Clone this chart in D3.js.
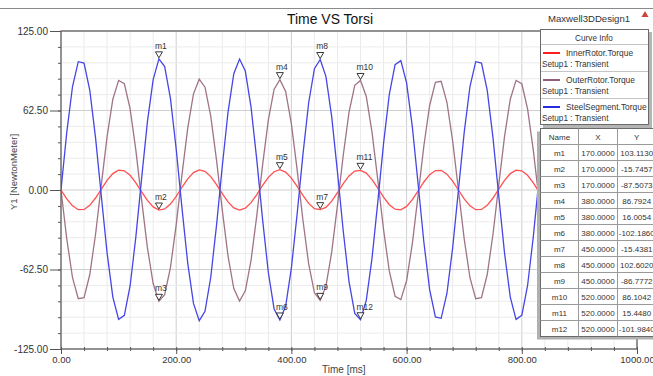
<!DOCTYPE html>
<html>
<head>
<meta charset="utf-8">
<script src="https://d3js.org/d3.v7.min.js"></script>
<style>
  html, body { margin: 0; padding: 0; background: #fff; }
  svg { display: block; font-family: Arial, "Liberation Sans", sans-serif; }
</style>
</head>
<body>
<svg id="chart" width="653" height="376"></svg>
<script>
// sample times (ms)
const timeMs = [
  0, 10, 20, 30, 40, 50, 60, 70, 80, 90,
  100, 110, 120, 130, 140, 150, 160, 170, 180, 190,
  200, 210, 220, 230, 240, 250, 260, 270, 280, 290,
  300, 310, 320, 330, 340, 350, 360, 370, 380, 390,
  400, 410, 420, 430, 440, 450, 460, 470, 480, 490,
  500, 510, 520, 530, 540, 550, 560, 570, 580, 590,
  600, 610, 620, 630, 640, 650, 660, 670, 680, 690,
  700, 710, 720, 730, 740, 750, 760, 770, 780, 790,
  800, 810, 820, 830, 840, 850, 860, 870, 880, 890,
  900, 910, 920, 930, 940, 950, 960, 970, 980, 990,
  1000
];

const innerRotor = [
  0, -6.95, -12.48, -15.47, -15.31, -12.02, -6.29, 0.72, 7.59, 12.91,
  15.60, 15.11, 11.54, 5.63, -1.44, -8.21, -13.31, -15.7457, -14.89, -11.04,
  -4.95, 2.15, 8.81, 13.68, 15.76, 14.63, 10.52, 4.26, -2.86, -9.40,
  -14.03, -15.80, -14.34, -9.97, -3.57, 3.57, 9.97, 14.34, 16.0054, 14.03,
  9.40, 2.86, -4.26, -10.52, -14.63, -15.4381, -13.68, -8.81, -2.15, 4.95,
  11.04, 14.89, 15.4480, 13.31, 8.21, 1.44, -5.63, -11.54, -15.11, -15.60,
  -12.91, -7.59, -0.72, 6.29, 12.02, 15.31, 15.47, 12.48, 6.95, 0,
  -6.95, -12.48, -15.47, -15.31, -12.02, -6.29, 0.72, 7.59, 12.91, 15.60,
  15.11, 11.54, 5.63, -1.44, -8.21, -13.31, -15.62, -14.89, -11.04, -4.95,
  2.15, 8.81, 13.68, 15.76, 14.63, 10.52, 4.26, -2.86, -9.40, -14.03,
  -15.80
];

const outerRotor = [
  0, -38.39, -68.97, -85.48, -84.58, -66.44, -34.78, 3.97, 41.92, 71.33,
  86.19, 83.50, 63.78, 31.10, -7.94, -45.36, -73.54, -87.5073, -82.26, -61.02,
  -27.35, 11.89, 48.70, 75.60, 87.10, 80.85, 58.13, 23.55, -15.81, -51.94,
  -77.51, -87.27, -79.26, -55.10, -19.70, 19.70, 55.10, 79.26, 86.7924, 77.51,
  51.94, 15.81, -23.55, -58.13, -80.85, -86.7772, -75.60, -48.70, -11.89, 27.35,
  61.02, 82.26, 86.1042, 73.54, 45.36, 7.94, -31.10, -63.78, -83.50, -86.19,
  -71.33, -41.92, -3.97, 34.78, 66.44, 84.58, 85.48, 68.97, 38.39, 0,
  -38.39, -68.97, -85.48, -84.58, -66.44, -34.78, 3.97, 41.92, 71.33, 86.19,
  83.50, 63.78, 31.10, -7.94, -45.36, -73.54, -86.70, -82.26, -61.02, -27.35,
  11.89, 48.70, 75.60, 87.10, 80.85, 58.13, 23.55, -15.81, -51.94, -77.51,
  -87.27
];

const steelSegment = [
  0, 45.29, 81.37, 100.85, 99.79, 78.38, 41.04, -4.69, -49.46, -84.16,
  -101.69, -98.52, -75.25, -36.69, 9.37, 53.52, 86.77, 103.1130, 97.06, 72.00,
  32.27, -14.03, -57.45, -89.20, -102.76, -95.39, -68.59, -27.79, 18.65, 61.29,
  91.45, 102.97, 93.51, 65.00, 23.25, -23.25, -65.00, -93.51, -102.1860, -91.45,
  -61.29, -18.65, 27.79, 68.59, 95.39, 102.6020, 89.20, 57.45, 14.03, -32.27,
  -72.00, -97.06, -101.9840, -86.77, -53.52, -9.37, 36.69, 75.25, 98.52, 101.69,
  84.16, 49.46, 4.69, -41.04, -78.38, -99.79, -100.85, -81.37, -45.29, 0,
  45.29, 81.37, 100.85, 99.79, 78.38, 41.04, -4.69, -49.46, -84.16, -101.69,
  -98.52, -75.25, -36.69, 9.37, 53.52, 86.77, 102.30, 97.06, 72.00, 32.27,
  -14.03, -57.45, -89.20, -102.76, -95.39, -68.59, -27.79, 18.65, 61.29, 91.45,
  102.97
];

const seriesNames = ["InnerRotor.Torque", "OuterRotor.Torque", "SteelSegment.Torque"];
const seriesColors = ["#ff4f4f", "#a07488", "#4646e6"];
const legendColors = ["#ff1e1e", "#8e5f76", "#2a2ae0"];

// markers
const markerNames = ["m1", "m2", "m3", "m4", "m5", "m6", "m7", "m8", "m9", "m10", "m11", "m12"];
const markerX = [170, 170, 170, 380, 380, 380, 450, 450, 450, 520, 520, 520];
const markerY = [103.1130, -15.7457, -87.5073, 86.7924, 16.0054, -102.1860,
                 -15.4381, 102.6020, -86.7772, 86.1042, 15.4480, -101.9840];

const xTicks = [0, 200, 400, 600, 800, 1000];
const yTicks = [125, 62.5, 0, -62.5, -125];

const svg = d3.select("#chart");
const plotL = 61, plotR = 637, plotT = 31, plotB = 349;

let x = d3.scaleLinear().domain([0, 1000]).range([plotL, plotR]);
let y = d3.scaleLinear().domain([-125, 125]).range([plotB, plotT]);

// top rule
svg.append("line").attr("x1", 0).attr("x2", 653).attr("y1", 8.5).attr("y2", 8.5)
  .attr("stroke", "#8a8a8a");

// title + design name
svg.append("text").attr("x", 330).attr("y", 24).attr("text-anchor", "middle")
  .attr("font-size", 15).attr("textLength", 86).attr("lengthAdjust", "spacingAndGlyphs")
  .attr("fill", "#111").text("Time VS Torsi");
svg.append("text").attr("x", 548).attr("y", 22).attr("font-size", 9.6)
  .attr("fill", "#333").text("Maxwell3DDesign1");
svg.append("path").attr("d", "M645,11 L641.5,17 L648.5,17 Z").attr("fill", "#c8443c");

// grid
const minorX = d3.range(0, 1001, 40);
const minorY = d3.range(-125, 126, 12.5);
let grid = svg.append("g");
grid.selectAll(".gx").data(minorX).join("line")
  .attr("x1", d => x(d)).attr("x2", d => x(d)).attr("y1", plotT).attr("y2", plotB)
  .attr("stroke", d => d % 200 === 0 ? "#cfcfcf" : "#ebebeb").attr("stroke-width", 1);
grid.selectAll(".gy").data(minorY).join("line")
  .attr("x1", plotL).attr("x2", plotR).attr("y1", d => y(d)).attr("y2", d => y(d))
  .attr("stroke", d => d % 62.5 === 0 ? "#cfcfcf" : "#ebebeb").attr("stroke-width", 1);

// curves
const allSeries = [innerRotor, outerRotor, steelSegment];
svg.append("clipPath").attr("id", "plotclip").append("rect")
  .attr("x", plotL).attr("y", plotT).attr("width", plotR - plotL).attr("height", plotB - plotT);
let line = d3.line().x((d, i) => x(timeMs[i])).y(d => y(d));
let curves = svg.append("g").attr("clip-path", "url(#plotclip)");
allSeries.forEach((s, i) => {
  curves.append("path").attr("d", line(s)).attr("fill", "none")
    .attr("stroke", seriesColors[i]).attr("stroke-width", 1.3);
});

// axes
const fmt = d => d.toFixed(2);
let yAxis = svg.append("g").attr("transform", `translate(${plotL},0)`)
  .call(d3.axisLeft(y).tickValues(yTicks).tickFormat(fmt).tickSize(11).tickPadding(2));
svg.append("g").attr("transform", `translate(${plotL},0)`)
  .call(d3.axisLeft(y).tickValues(minorY).tickFormat("").tickSize(3));
let xAxis = svg.append("g").attr("transform", `translate(0,${plotB})`)
  .call(d3.axisBottom(x).tickValues(xTicks).tickFormat(fmt).tickSize(5).tickPadding(2));
svg.append("g").attr("transform", `translate(0,${plotB - 2})`)
  .call(d3.axisBottom(x).tickValues(minorX).tickFormat("").tickSize(4));
svg.selectAll(".domain").remove();
svg.selectAll(".tick line").attr("stroke", "#555");
yAxis.selectAll("text").attr("font-size", 10).attr("fill", "#333").attr("font-family", "Arial, 'Liberation Sans', sans-serif");
xAxis.selectAll("text").attr("font-size", 9.5).attr("fill", "#333").attr("font-family", "Arial, 'Liberation Sans', sans-serif");

// frame
svg.append("rect").attr("x", plotL).attr("y", plotT).attr("width", plotR - plotL).attr("height", plotB - plotT)
  .attr("fill", "none").attr("stroke", "#5a5a5a").attr("stroke-width", 1.2);

// axis titles
svg.append("text").attr("x", 322).attr("y", 373).attr("font-size", 10).attr("fill", "#444")
  .text("Time [ms]");
svg.append("text").attr("transform", "translate(17,172) rotate(-90)").attr("text-anchor", "middle")
  .attr("font-size", 9.5).attr("fill", "#444").text("Y1 [NewtonMeter]");

// marker symbols
let mk = svg.append("g");
markerNames.forEach((name, i) => {
  const px = x(markerX[i]), py = y(markerY[i]);
  mk.append("path")
    .attr("d", `M${px},${py - 1} L${px - 3.5},${py - 7} L${px + 3.5},${py - 7} Z`)
    .attr("fill", "#fff").attr("stroke", "#222").attr("stroke-width", 0.9);
  mk.append("text").attr("x", px - 4).attr("y", py - 10).attr("font-size", 8.5)
    .attr("fill", "#333").text(name);
});

// legend box (Curve Info)
let lg = svg.append("g");
lg.append("rect").attr("x", 543).attr("y", 32).attr("width", 109).attr("height", 96).attr("fill", "#b5b5b5");
lg.append("rect").attr("x", 540.5).attr("y", 29.5).attr("width", 108).attr("height", 95)
  .attr("fill", "#fff").attr("stroke", "#6a6a6a");
lg.append("text").attr("x", 594).attr("y", 41).attr("text-anchor", "middle")
  .attr("font-size", 8.2).attr("fill", "#333").text("Curve Info");
lg.append("line").attr("x1", 541).attr("x2", 648).attr("y1", 44.5).attr("y2", 44.5).attr("stroke", "#c4c4c4");
seriesNames.forEach((name, i) => {
  const oy = 27 * i;
  lg.append("line").attr("x1", 543).attr("x2", 560).attr("y1", 53 + oy).attr("y2", 53 + oy)
    .attr("stroke", legendColors[i]).attr("stroke-width", 2);
  lg.append("text").attr("x", 566).attr("y", 56 + oy).attr("font-size", 8.4).attr("fill", "#333").text(name);
  lg.append("text").attr("x", 542).attr("y", 67 + oy).attr("font-size", 8.2).attr("fill", "#333").text("Setup1 : Transient");
  if (i < 2) {
    lg.append("line").attr("x1", 541).attr("x2", 648).attr("y1", 71.5 + oy).attr("y2", 71.5 + oy).attr("stroke", "#c4c4c4");
  }
});

// marker table
const colX = [540.5, 578.5, 617.5, 660];
const headers = ["Name", "X", "Y"];
const rowH = 16, tableTop = 128.5, headH = 16;
let tb = svg.append("g");
tb.append("rect").attr("x", 537).attr("y", tableTop + 3).attr("width", 120).attr("height", headH + rowH * 12)
  .attr("fill", "#b0b0b0");
tb.append("rect").attr("x", colX[0]).attr("y", tableTop).attr("width", 120).attr("height", headH + rowH * 12)
  .attr("fill", "#fff").attr("stroke", "#6a6a6a");
headers.forEach((h, j) => {
  tb.append("text").attr("x", (colX[j] + colX[j + 1]) / 2 + (j === 2 ? -2 : 0)).attr("y", tableTop + 11.5)
    .attr("text-anchor", "middle").attr("font-size", 8).attr("fill", "#333").text(h);
});
for (let j = 1; j < 3; j++) {
  tb.append("line").attr("x1", colX[j]).attr("x2", colX[j]).attr("y1", tableTop).attr("y2", tableTop + headH + rowH * 12)
    .attr("stroke", "#9a9a9a");
}
markerNames.forEach((name, i) => {
  const ry = tableTop + headH + rowH * i;
  tb.append("line").attr("x1", colX[0]).attr("x2", 653).attr("y1", ry).attr("y2", ry).attr("stroke", "#9a9a9a");
  const cells = [name, markerX[i].toFixed(4), markerY[i].toFixed(4)];
  cells.forEach((c, j) => {
    tb.append("text").attr("x", (colX[j] + colX[j + 1]) / 2 + (j === 2 ? -2 : 0)).attr("y", ry + 11.5)
      .attr("text-anchor", "middle").attr("font-size", 8).attr("fill", "#333").text(c);
  });
});
</script>
</body>
</html>
